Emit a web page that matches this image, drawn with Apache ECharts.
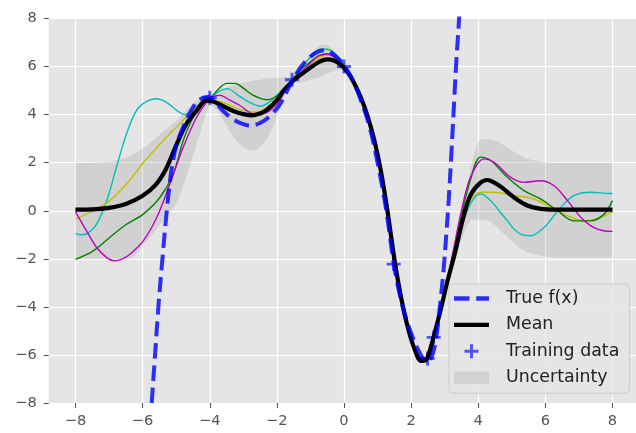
<!DOCTYPE html>
<html>
<head>
<meta charset="utf-8">
<script src="https://cdn.jsdelivr.net/npm/echarts@6/dist/echarts.min.js"></script>
<style>
html,body{margin:0;padding:0;background:#fff;}
#chart{width:636px;height:433px;}
</style>
</head>
<body>
<div id="chart"></div>
<script>
// ---- data ----
const xTicks = [-8, -6, -4, -2, 0, 2, 4, 6, 8];
const yTicks = [-8, -6, -4, -2, 0, 2, 4, 6, 8];

const trueF = [[-5.73,-8],[-5.63,-6],[-5.53,-4],[-5.41,-2],[-5.28,0],[-5.15,1.6],[-5.0,2.7],[-4.8,3.45],[-4.6,4.05],[-4.4,4.5],[-4.2,4.7],[-4.05,4.73],[-3.85,4.55],[-3.6,4.15],[-3.3,3.8],[-3.0,3.6],[-2.8,3.55],[-2.5,3.65],[-2.2,3.95],[-1.9,4.45],[-1.6,5.25],[-1.3,5.95],[-1.0,6.42],[-0.75,6.63],[-0.55,6.68],[-0.35,6.55],[-0.15,6.3],[0.0,6.05],[0.2,5.6],[0.45,4.8],[0.75,3.55],[1.0,2.0],[1.25,0.1],[1.5,-2.35],[1.75,-4.0],[2.0,-5.1],[2.25,-5.9],[2.45,-6.25],[2.6,-6.1],[2.73,-5.45],[2.87,-3.8],[2.97,-2.4],[3.05,-0.95],[3.12,0.45],[3.2,2.4],[3.28,4.5],[3.35,6.3],[3.43,8.0],[3.47,9.0]];

const meanF = [[-8,0.05],[-7.5,0.06],[-7,0.12],[-6.5,0.28],[-6,0.62],[-5.6,1.1],[-5.3,1.75],[-5.0,2.72],[-4.7,3.6],[-4.4,4.15],[-4.1,4.58],[-3.9,4.55],[-3.6,4.35],[-3.3,4.15],[-3.0,4.02],[-2.75,3.97],[-2.5,4.05],[-2.3,4.2],[-2.0,4.6],[-1.8,5.0],[-1.5,5.43],[-1.1,5.85],[-0.76,6.18],[-0.5,6.3],[-0.3,6.25],[-0.1,6.08],[0.1,5.78],[0.3,5.32],[0.5,4.72],[0.7,3.95],[0.9,2.95],[1.1,1.65],[1.3,-0.05],[1.5,-2.0],[1.7,-3.6],[1.9,-4.85],[2.1,-5.75],[2.3,-6.25],[2.45,-6.2],[2.63,-5.45],[2.87,-4.18],[3.07,-3.0],[3.32,-1.67],[3.55,-0.3],[3.77,0.65],[4.05,1.15],[4.27,1.28],[4.5,1.15],[4.7,0.97],[5.06,0.56],[5.46,0.22],[5.86,0.08],[6.3,0.05],[7,0.05],[8,0.05]];

const bandX     = [-8,-7.5,-7,-6.5,-6.25,-6,-5.75,-5.5,-5.25,-5,-4.75,-4.5,-4.25,-4,-3.75,-3.5,-3.25,-3,-2.75,-2.5,-2.25,-2,-1.75,-1.55,-1.25,-1,-0.75,-0.5,-0.25,0,0.25,0.5,0.75,1,1.25,1.5,1.75,2,2.25,2.5,2.7,3,3.25,3.5,3.75,4,4.25,4.5,4.75,5,5.25,5.5,6,6.5,7,7.5,8];
const bandUpper = [2.0,2.0,2.05,2.2,2.38,2.58,2.85,3.15,3.45,3.75,4.1,4.45,4.7,4.8,4.95,5.12,5.25,5.33,5.4,5.45,5.5,5.53,5.57,5.6,6.05,6.5,6.85,6.9,6.6,6.05,5.57,4.9,3.9,2.48,0.55,-1.9,-3.75,-5.18,-6.02,-6.11,-5.05,-3.17,-1.65,0.0,1.6,2.85,2.97,2.92,2.75,2.52,2.31,2.15,2.02,2.0,2.0,2.0,2.0];
const bandLower = [-2.0,-2.0,-2.0,-1.98,-1.9,-1.45,-1.05,-0.6,-0.15,0.3,1.2,2.3,3.4,4.35,4.1,3.55,3.0,2.65,2.5,2.65,3.1,3.9,4.85,5.25,5.35,5.45,5.55,5.7,5.85,5.8,5.33,4.54,3.5,2.12,0.31,-2.0,-3.95,-5.42,-6.18,-6.19,-5.15,-3.67,-2.45,-1.2,-0.45,-0.38,-0.4,-0.6,-0.95,-1.28,-1.55,-1.75,-1.9,-1.95,-1.95,-1.95,-1.95];

const sampleCyan = [[-8,-0.95],[-7.8,-1.0],[-7.6,-0.9],[-7.37,-0.56],[-7.07,0.42],[-6.78,1.81],[-6.48,3.2],[-6.18,4.18],[-5.88,4.55],[-5.6,4.66],[-5.3,4.52],[-5.0,4.2],[-4.75,4.0],[-4.5,4.2],[-4.25,4.5],[-4.0,4.68],[-3.75,4.95],[-3.49,5.08],[-3.1,4.75],[-2.8,4.5],[-2.5,4.35],[-2.2,4.55],[-1.9,4.95],[-1.6,5.35],[-1.3,5.9],[-1.0,6.4],[-0.7,6.72],[-0.5,6.72],[-0.25,6.5],[0,6.05],[0.25,5.5],[0.5,4.72],[0.75,3.72],[1.0,2.3],[1.25,0.35],[1.5,-2.0],[1.75,-3.85],[2.0,-5.3],[2.25,-6.1],[2.5,-6.15],[2.7,-5.15],[3.0,-3.4],[3.25,-2.0],[3.5,-0.7],[3.77,0.3],[4.07,0.7],[4.37,0.42],[4.62,0.0],[4.87,-0.42],[5.06,-0.75],[5.26,-0.97],[5.56,-1.04],[5.96,-0.7],[6.2,-0.3],[6.46,0.14],[6.85,0.63],[7.35,0.77],[7.95,0.72],[8,0.72]];

const sampleYellow = [[-8,-0.35],[-7.47,0],[-6.98,0.42],[-6.48,1.11],[-5.98,2.0],[-5.48,2.78],[-4.99,3.48],[-4.49,4.18],[-4.0,4.6],[-3.7,4.55],[-3.39,4.38],[-3.1,4.22],[-2.8,4.12],[-2.6,4.1],[-2.3,4.3],[-2.0,4.7],[-1.75,5.1],[-1.55,5.4],[-1.25,5.75],[-1,6.05],[-0.75,6.35],[-0.5,6.48],[-0.25,6.35],[0,5.95],[0.25,5.42],[0.5,4.7],[0.75,3.72],[1,2.3],[1.25,0.35],[1.5,-2.0],[1.75,-3.85],[2,-5.3],[2.25,-6.1],[2.5,-6.15],[2.7,-5.1],[3.0,-3.3],[3.25,-1.8],[3.45,-0.5],[3.67,0.28],[4.07,0.77],[4.47,0.77],[5.06,0.63],[5.66,0.49],[6.16,0.14],[6.66,-0.21],[7.15,-0.42],[7.65,-0.28],[7.95,-0.07],[8,-0.05]];

const sampleGreen = [[-8,-2.02],[-7.47,-1.67],[-6.98,-1.11],[-6.48,-0.56],[-5.98,-0.14],[-5.48,0.56],[-5.09,1.53],[-4.79,2.92],[-4.49,3.9],[-4.2,4.45],[-4.0,4.65],[-3.75,5.05],[-3.49,5.3],[-3.24,5.3],[-3.0,5.1],[-2.7,4.8],[-2.3,4.62],[-1.9,4.87],[-1.6,5.35],[-1.3,5.85],[-1,6.2],[-0.75,6.45],[-0.5,6.52],[-0.25,6.38],[0,5.97],[0.25,5.44],[0.5,4.7],[0.75,3.72],[1,2.3],[1.25,0.35],[1.5,-2.0],[1.75,-3.85],[2,-5.3],[2.25,-6.1],[2.5,-6.15],[2.7,-5.1],[3.0,-3.4],[3.25,-1.9],[3.5,-0.2],[3.77,1.3],[4.07,2.23],[4.37,2.09],[4.87,1.39],[5.36,0.84],[5.86,0.49],[6.36,0.0],[6.85,-0.42],[7.35,-0.42],[7.75,-0.14],[8.0,0.42]];

const sampleMagenta = [[-8,-0.05],[-7.67,-0.84],[-7.37,-1.53],[-7.07,-1.95],[-6.85,-2.08],[-6.6,-2.0],[-6.38,-1.81],[-5.98,-1.25],[-5.58,-0.28],[-5.19,1.11],[-4.79,2.64],[-4.39,3.9],[-4.1,4.5],[-3.9,4.75],[-3.69,4.8],[-3.4,4.6],[-3.1,4.38],[-2.7,4.04],[-2.4,4.04],[-2.0,4.45],[-1.75,5.0],[-1.55,5.4],[-1.25,5.8],[-1,6.15],[-0.75,6.45],[-0.5,6.52],[-0.25,6.36],[0,5.96],[0.25,5.42],[0.5,4.7],[0.75,3.72],[1,2.3],[1.25,0.35],[1.5,-2.0],[1.75,-3.85],[2,-5.3],[2.25,-6.1],[2.5,-6.15],[2.7,-5.1],[3.0,-3.4],[3.25,-1.7],[3.5,0.0],[3.77,1.39],[4.17,2.16],[4.47,2.02],[4.97,1.39],[5.36,1.18],[5.86,1.25],[6.26,1.04],[6.66,0.42],[7.06,-0.28],[7.45,-0.7],[7.95,-0.86],[8,-0.86]];

const trainingData = [[-4.0,4.7],[-1.55,5.45],[0.0,6.0],[1.48,-2.22],[2.49,-6.15],[2.67,-5.27]];

// ---- build chart ----
const minus = v => String(v).replace('-', '\u2212');
const FONT = 'DejaVu Sans';
const blue = 'rgba(0,0,255,0.8)';
const bandFill = 'rgba(128,128,128,0.2)';
const plusPath = 'path://M-0.21,-1H0.21V-0.21H1V0.21H0.21V1H-0.21V0.21H-1V-0.21H-0.21Z';

// Catmull-Rom style cubic segments through screen points
function curveThrough(pts) {
  let d = '';
  const n = pts.length;
  for (let i = 0; i < n - 1; i++) {
    const p0 = pts[Math.max(i - 1, 0)], p1 = pts[i], p2 = pts[i + 1], p3 = pts[Math.min(i + 2, n - 1)];
    const c1x = p1[0] + (p2[0] - p0[0]) / 6, c1y = p1[1] + (p2[1] - p0[1]) / 6;
    const c2x = p2[0] - (p3[0] - p1[0]) / 6, c2y = p2[1] - (p3[1] - p1[1]) / 6;
    d += 'C' + c1x + ',' + c1y + ' ' + c2x + ',' + c2y + ' ' + p2[0] + ',' + p2[1];
  }
  return d;
}

const bandData = bandX.map((x, i) => [x, bandUpper[i], bandLower[i]]);

function sample(name, data, color) {
  return {
    name: name, type: 'line', data: data, smooth: 0.35, symbol: 'none',
    xAxisIndex: 0, yAxisIndex: 0,
    lineStyle: {color: color, width: 1.4}, itemStyle: {color: color}, z: 3, silent: true
  };
}

const chart = echarts.init(document.getElementById('chart'), null, {renderer: 'canvas'});
chart.setOption({
  animation: false,
  backgroundColor: '#ffffff',
  textStyle: {fontFamily: FONT},
  grid: [
    {left: 75.5, top: 18.5, width: 537, height: 384.5, show: false},
    {left: 48.7, top: 18.5, width: 590, height: 384.5, show: true, backgroundColor: '#E5E5E5', borderWidth: 0, z: -1}
  ],
  xAxis: [
    {type: 'value', gridIndex: 0, position: 'bottom', min: xTicks[0], max: xTicks[xTicks.length-1], interval: xTicks[1]-xTicks[0],
     axisLine: {show: false, onZero: false},
     axisTick: {show: true, inside: false, length: 5, lineStyle: {color: '#555555', width: 1.1}},
     axisLabel: {color: '#555555', fontSize: 14.6, fontFamily: FONT, margin: 11, formatter: minus},
     splitLine: {show: true, lineStyle: {color: '#ffffff', width: 1.2}}, z: 1},
    {type: 'value', gridIndex: 1, min: -8.8, max: 8.8, show: false, axisLine: {onZero: false}}
  ],
  yAxis: [
    {type: 'value', gridIndex: 0, min: yTicks[0], max: yTicks[yTicks.length-1], show: false, axisLine: {onZero: false}},
    {type: 'value', gridIndex: 1, position: 'left', min: yTicks[0], max: yTicks[yTicks.length-1], interval: yTicks[1]-yTicks[0],
     axisLine: {show: false, onZero: false},
     axisTick: {show: true, inside: false, length: 5, lineStyle: {color: '#555555', width: 1.1}},
     axisLabel: {color: '#555555', fontSize: 14.6, fontFamily: FONT, margin: 12, formatter: minus},
     splitLine: {show: true, lineStyle: {color: '#ffffff', width: 1.2}}, z: 1}
  ],
  legend: {
    orient: 'vertical', left: 449, top: 284,
    padding: [6, 10, 7, 5],
    itemGap: 9.4, itemWidth: 35, itemHeight: 14,
    backgroundColor: 'rgba(229,229,229,0.8)', borderColor: '#cccccc', borderWidth: 1, borderRadius: 4,
    textStyle: {fontFamily: FONT, fontSize: 17.4, color: '#222222', padding: [0, 0, 0, 12]},
    selectedMode: false,
    data: [
      {name: 'True f(x)', icon: 'path://M0,0H15.5V4.4H0Z M22.2,0H35V4.4H22.2Z', itemStyle: {color: blue, borderWidth: 0}},
      {name: 'Mean', icon: 'path://M0,0H35V4.4H0Z', itemStyle: {color: '#000000', borderWidth: 0}},
      {name: 'Training data', icon: plusPath, itemStyle: {color: blue, borderWidth: 0}},
      {name: 'Uncertainty', icon: 'path://M0,0H35V12.25H0Z', itemStyle: {color: bandFill, borderWidth: 0}}
    ]
  },
  series: [
    {name: 'Uncertainty', type: 'custom', xAxisIndex: 0, yAxisIndex: 0, data: bandData,
     encode: {x: 0, y: [1, 2]}, itemStyle: {color: bandFill}, silent: true, z: 2,
     renderItem: function (params, api) {
       if (params.dataIndex !== 0) return null;
       const up = bandData.map(p => api.coord([p[0], p[1]]));
       const lo = bandData.map(p => api.coord([p[0], p[2]])).reverse();
       const d = 'M' + up[0][0] + ',' + up[0][1] + curveThrough(up) +
                 'L' + lo[0][0] + ',' + lo[0][1] + curveThrough(lo) + 'Z';
       return {type: 'path', shape: {pathData: d}, style: {fill: bandFill, stroke: null}};
     }},
    sample('s-cyan', sampleCyan, '#00BFBF'),
    sample('s-yellow', sampleYellow, '#BFBF00'),
    sample('s-green', sampleGreen, '#008000'),
    sample('s-magenta', sampleMagenta, '#BF00BF'),
    {name: 'Training data', type: 'scatter', data: trainingData, symbol: plusPath, symbolSize: 14,
     itemStyle: {color: blue}, z: 4, silent: true},
    {name: 'Mean', type: 'line', data: meanF, smooth: 0.35, symbol: 'none',
     lineStyle: {color: '#000000', width: 4.2}, itemStyle: {color: '#000000'}, z: 5, silent: true},
    {name: 'True f(x)', type: 'line', data: trueF, smooth: 0.35, symbol: 'none',
     lineStyle: {color: blue, width: 4.0, type: [15.5, 6.7]}, itemStyle: {color: blue}, z: 6, silent: true}
  ]
});
</script>
</body>
</html>
